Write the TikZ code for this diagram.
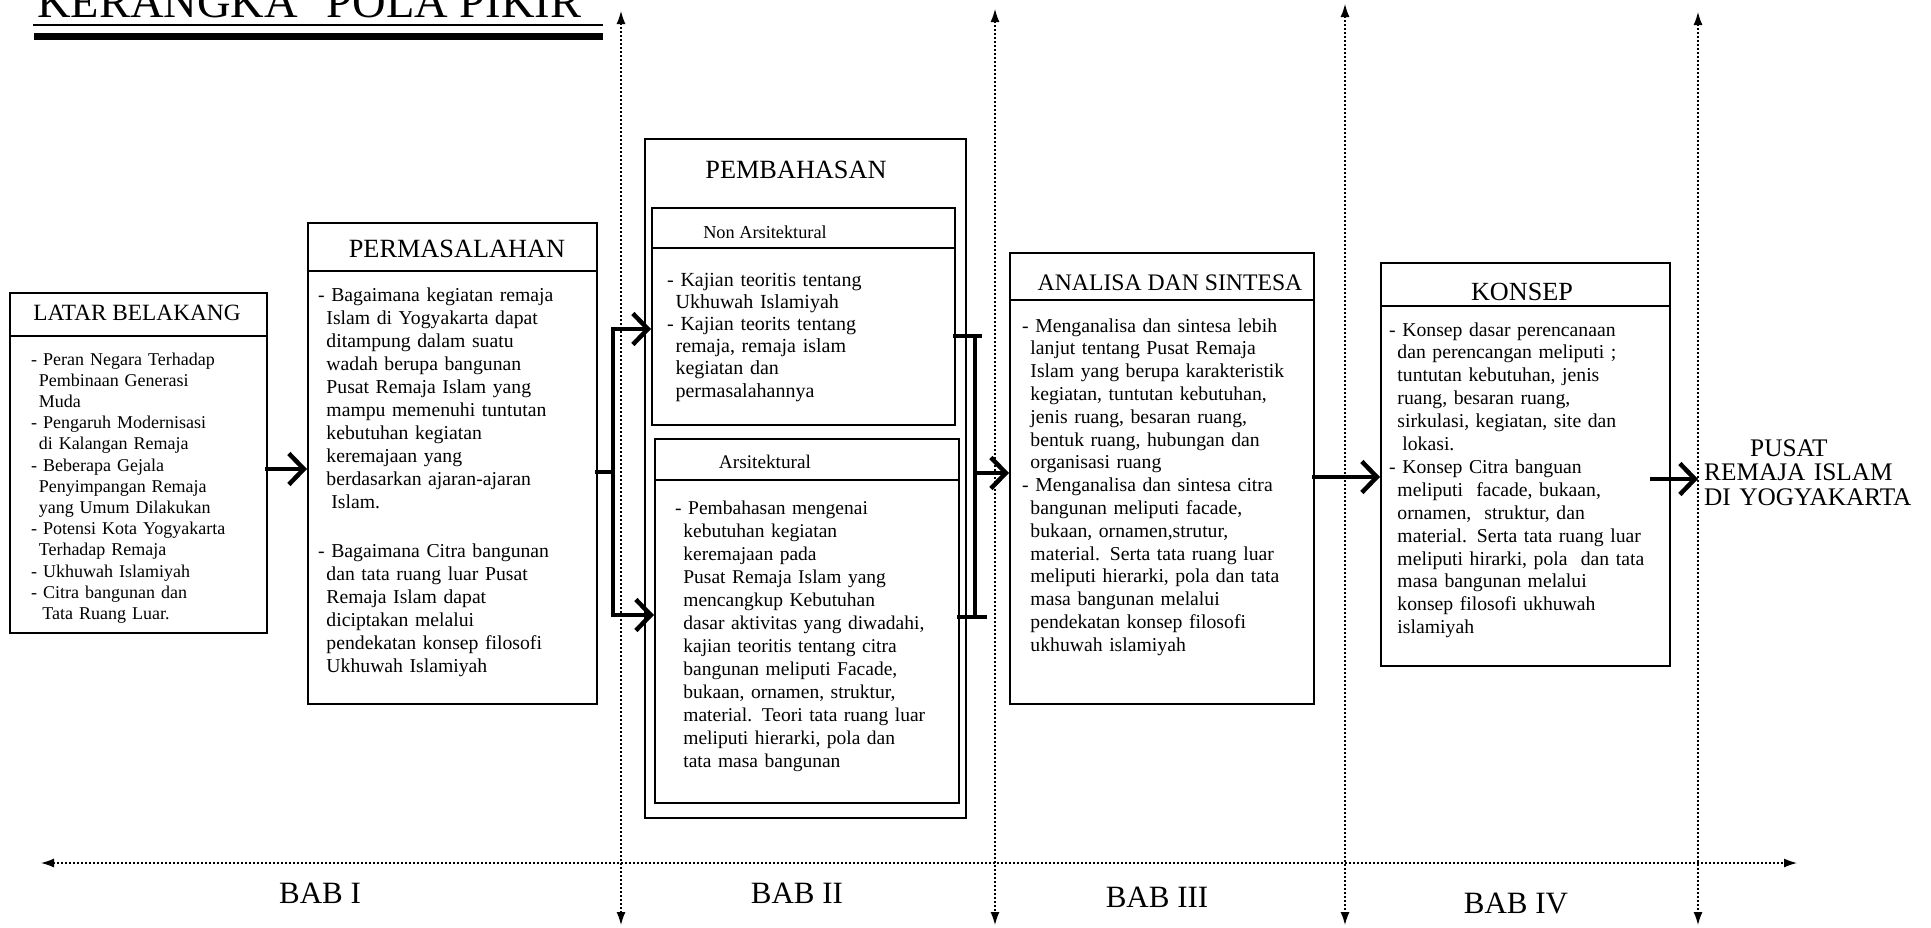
\documentclass[tikz,border=0pt]{standalone}
\usepackage{fontspec}
\setmainfont{Liberation Serif}
\usetikzlibrary{arrows.meta}
\newcommand\cind{\hspace*{0.42em}}
\tikzset{
  box/.style={draw, line width=1.6pt, inner sep=0pt, anchor=north west},
  sepline/.style={line width=1.4pt},
  hdr/.style={inner sep=0pt, anchor=center},
  body/.style={inner sep=0pt, anchor=base west, align=left, text width=320pt},
  lnk/.style={line width=4.5pt, line cap=rect},
  flow/.style={line width=4.5pt, line cap=rect, -{Straight Barb[length=15pt,width=31pt]}},
  guide/.style={line width=1.3pt, dash pattern=on 1.3pt off 2.7pt, {Latex[length=13pt,width=9pt]}-{Latex[length=13pt,width=9pt]}},
  babtext/.style={inner sep=0pt, anchor=base, font=\fontsize{31pt}{31pt}\selectfont},
}
\begin{document}
\begin{tikzpicture}[x=1pt,y=-1pt]
\useasboundingbox (0,0) rectangle (1931,927);

% title
\node[inner sep=0pt, anchor=base west, font=\fontsize{46.5pt}{46.5pt}\selectfont] (title) at (37,17) {KERANGKA\hspace{0.37em} POLA PIKIR};
\draw[line width=2pt] (33,25) -- (603,25);
\draw[line width=7pt] (34,36.5) -- (603,36.5);

% guide lines
\coordinate (v1t) at (621,11);  \coordinate (v1b) at (621,925);
\coordinate (v2t) at (995,9);   \coordinate (v2b) at (995,925);
\coordinate (v3t) at (1345,4);  \coordinate (v3b) at (1345,925);
\coordinate (v4t) at (1698,12); \coordinate (v4b) at (1698,925);
\coordinate (hl) at (41,863);   \coordinate (hr) at (1797,863);
\draw[guide] (v1t) -- (v1b);
\draw[guide] (v2t) -- (v2b);
\draw[guide] (v3t) -- (v3b);
\draw[guide] (v4t) -- (v4b);
\draw[guide] (hl) -- (hr);

\node[babtext] (bab1) at (320,903) {BAB I};
\node[babtext] (bab2) at (797,903) {BAB II};
\node[babtext] (bab3) at (1157,907) {BAB III};
\node[babtext] (bab4) at (1516,913) {BAB IV};

% LATAR BELAKANG
\node[box, minimum width=257pt, minimum height=340pt] (latar) at (9,292) {};
\draw[sepline] (latar.west |- 0,336) -- (latar.east |- 0,336);
\node[hdr, font=\fontsize{23.3pt}{23.3pt}\selectfont] (latarh) at (137,313) {LATAR BELAKANG};
\node[body, font=\fontsize{18pt}{21.2pt}\selectfont] (latarb) at (31,365) {%
- Peran Negara Terhadap\\
\cind Pembinaan Generasi\\
\cind Muda\\
- Pengaruh Modernisasi\\
\cind di Kalangan Remaja\\
- Beberapa Gejala\\
\cind Penyimpangan Remaja\\
\cind yang Umum Dilakukan\\
- Potensi Kota Yogyakarta\\
\cind Terhadap Remaja\\
- Ukhuwah Islamiyah\\
- Citra bangunan dan\\
\cind\hspace*{0.2em}Tata Ruang Luar.};

% PERMASALAHAN
\node[box, minimum width=289pt, minimum height=481pt] (perm) at (307,222) {};
\draw[sepline] (perm.west |- 0,271) -- (perm.east |- 0,271);
\node[hdr, font=\fontsize{26.3pt}{26.3pt}\selectfont] (permh) at (457,249) {PERMASALAHAN};
\node[body, font=\fontsize{19.7pt}{23pt}\selectfont] (permb) at (318,301) {%
- Bagaimana kegiatan remaja\\
\cind Islam di Yogyakarta dapat\\
\cind ditampung dalam suatu\\
\cind wadah berupa bangunan\\
\cind Pusat Remaja Islam yang\\
\cind mampu memenuhi tuntutan\\
\cind kebutuhan kegiatan\\
\cind keremajaan yang\\
\cind berdasarkan ajaran-ajaran\\
\cind\hspace*{0.25em}Islam.\\[26pt]
- Bagaimana Citra bangunan\\
\cind dan tata ruang luar Pusat\\
\cind Remaja Islam dapat\\
\cind diciptakan melalui\\
\cind pendekatan konsep filosofi\\
\cind Ukhuwah Islamiyah};

% PEMBAHASAN
\node[box, minimum width=321pt, minimum height=679pt] (pemb) at (644,138) {};
\node[hdr, font=\fontsize{26.3pt}{26.3pt}\selectfont] (pembh) at (796,170) {PEMBAHASAN};

\node[box, minimum width=303pt, minimum height=217pt] (nonars) at (651,207) {};
\draw[sepline] (nonars.west |- 0,248) -- (nonars.east |- 0,248);
\node[hdr, font=\fontsize{18.3pt}{18.3pt}\selectfont] (nonarsh) at (765,232) {Non Arsitektural};
\node[body, font=\fontsize{20pt}{22.2pt}\selectfont] (nonarsb) at (667,286) {%
- Kajian teoritis tentang\\
\cind Ukhuwah Islamiyah\\
- Kajian teorits tentang\\
\cind remaja, remaja islam\\
\cind kegiatan dan\\
\cind permasalahannya};

\node[box, minimum width=304pt, minimum height=364pt] (ars) at (654,438) {};
\draw[sepline] (ars.west |- 0,480) -- (ars.east |- 0,480);
\node[hdr, font=\fontsize{19.3pt}{19.3pt}\selectfont] (arsh) at (765,462) {Arsitektural};
\node[body, font=\fontsize{19.5pt}{23pt}\selectfont] (arsb) at (675,514) {%
- Pembahasan mengenai\\
\cind kebutuhan kegiatan\\
\cind keremajaan pada\\
\cind Pusat Remaja Islam yang\\
\cind mencangkup Kebutuhan\\
\cind dasar aktivitas yang diwadahi,\\
\cind kajian teoritis tentang citra\\
\cind bangunan meliputi Facade,\\
\cind bukaan, ornamen, struktur,\\
\cind material. Teori tata ruang luar\\
\cind meliputi hierarki, pola dan\\
\cind tata masa bangunan};

% ANALISA DAN SINTESA
\node[box, minimum width=304pt, minimum height=451pt] (anal) at (1009,252) {};
\draw[sepline] (anal.west |- 0,300) -- (anal.east |- 0,300);
\node[hdr, font=\fontsize{23.7pt}{23.7pt}\selectfont] (analh) at (1170,283) {ANALISA DAN SINTESA};
\node[body, font=\fontsize{19.7pt}{22.8pt}\selectfont] (analb) at (1022,332) {%
- Menganalisa dan sintesa lebih\\
\cind lanjut tentang Pusat Remaja\\
\cind Islam yang berupa karakteristik\\
\cind kegiatan, tuntutan kebutuhan,\\
\cind jenis ruang, besaran ruang,\\
\cind bentuk ruang, hubungan dan\\
\cind organisasi ruang\\
- Menganalisa dan sintesa citra\\
\cind bangunan meliputi facade,\\
\cind bukaan, ornamen,strutur,\\
\cind material. Serta tata ruang luar\\
\cind meliputi hierarki, pola dan tata\\
\cind masa bangunan melalui\\
\cind pendekatan konsep filosofi\\
\cind ukhuwah islamiyah};

% KONSEP
\node[box, minimum width=289pt, minimum height=403pt] (kons) at (1380,262) {};
\draw[sepline] (kons.west |- 0,306) -- (kons.east |- 0,306);
\node[hdr, font=\fontsize{26.2pt}{26.2pt}\selectfont] (konsh) at (1522,292) {KONSEP};
\node[body, font=\fontsize{19.7pt}{22.9pt}\selectfont] (konsb) at (1389,336) {%
- Konsep dasar perencanaan\\
\cind dan perencangan meliputi ;\\
\cind tuntutan kebutuhan, jenis\\
\cind ruang, besaran ruang,\\
\cind sirkulasi, kegiatan, site dan\\
\cind\hspace*{0.25em}lokasi.\\
- Konsep Citra banguan\\
\cind meliputi\ \ facade, bukaan,\\
\cind ornamen,\ \ struktur, dan\\
\cind material. Serta tata ruang luar\\
\cind meliputi hirarki, pola\ \ dan tata\\
\cind masa bangunan melalui\\
\cind konsep filosofi ukhuwah\\
\cind islamiyah};

% result
\node[inner sep=0pt, anchor=base west, align=left, text width=230pt, font=\fontsize{25.3pt}{24.8pt}\selectfont] (pusat) at (1704,456) {%
\hspace*{46pt}PUSAT\\
REMAJA ISLAM\\
DI YOGYAKARTA};

% connectors
\draw[flow] (latar.east |- 0,469) -- (perm.west |- 0,469);

\coordinate (b1t) at (613,329);
\coordinate (b1b) at (613,615);
\draw[lnk] (perm.east |- 0,472) -- (b1t |- 0,472);
\draw[flow] (b1b) -- (b1t) -- (nonars.west |- b1t);
\draw[flow] (b1b) -- (ars.west |- b1b);

\coordinate (b2t) at (975,336);
\coordinate (b2b) at (975,617);
\draw[lnk] (nonars.east |- b2t) -- (980,336);
\draw[lnk] (b2t) -- (b2b);
\draw[lnk] (ars.east |- b2b) -- (985,617);
\draw[flow] (b2t |- 0,473) -- (anal.west |- 0,473);

\draw[flow] (anal.east |- 0,477) -- (kons.west |- 0,477);

\coordinate (k5) at (1652,479);
\draw[flow] (k5) -- (v4t |- k5);
\end{tikzpicture}
\end{document}
